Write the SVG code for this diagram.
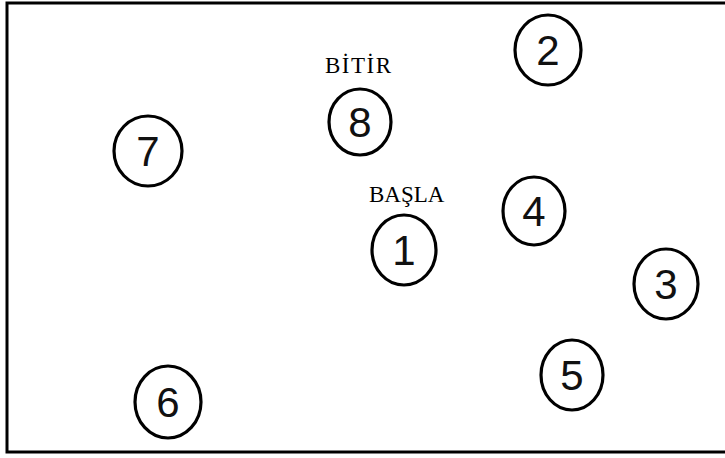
<svg xmlns="http://www.w3.org/2000/svg" width="725" height="458" viewBox="0 0 725 458">
<style>
.n ellipse{fill:none;stroke:#000;stroke-width:3.2}
.n text{font-family:"Liberation Sans",Arial,sans-serif;font-size:42px;text-anchor:middle;fill:#111}
.lbl{font-family:"Liberation Serif","Times New Roman",serif;font-size:23px;fill:#000}
</style>
<rect x="0" y="0" width="725" height="458" fill="#fff"/>
<rect x="7" y="3" width="730" height="449" fill="none" stroke="#000" stroke-width="3"/>
<g id="connectors"></g>
<g id="node1" class="n"><ellipse cx="404" cy="250" rx="32" ry="35"/><text x="404" y="265">1</text></g>
<g id="node2" class="n"><ellipse cx="548" cy="50" rx="33" ry="35"/><text x="548" y="65">2</text></g>
<g id="node3" class="n"><ellipse cx="666" cy="284" rx="32" ry="35"/><text x="666" y="299">3</text></g>
<g id="node4" class="n"><ellipse cx="534" cy="211" rx="31" ry="34"/><text x="534" y="226">4</text></g>
<g id="node5" class="n"><ellipse cx="572" cy="375" rx="31" ry="35"/><text x="572" y="390">5</text></g>
<g id="node6" class="n"><ellipse cx="168" cy="402" rx="33" ry="36"/><text x="168" y="417">6</text></g>
<g id="node7" class="n"><ellipse cx="148" cy="151" rx="34" ry="35"/><text x="148" y="166">7</text></g>
<g id="node8" class="n"><ellipse cx="360" cy="122" rx="31" ry="33"/><text x="360" y="137">8</text></g>
<text class="lbl" x="325" y="73" letter-spacing="1.5">BİTİR</text>
<text class="lbl" x="369" y="202">BAŞLA</text>
</svg>
